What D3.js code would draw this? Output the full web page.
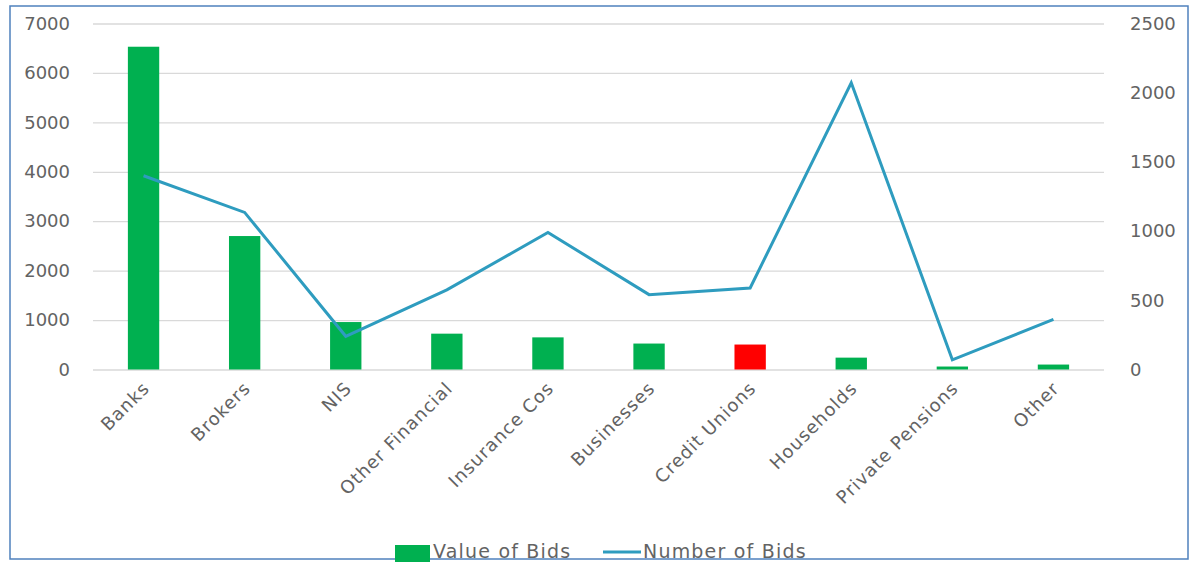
<!DOCTYPE html>
<html><head><meta charset="utf-8">
<script src="https://cdn.jsdelivr.net/npm/d3@7"></script>
<style>body{margin:0;background:#fff;}svg{display:block;font-family:"DejaVu Sans",sans-serif;}</style>
</head><body><svg id="c" width="1190" height="562"></svg>
<script>
const categories = ["Banks","Brokers","NIS","Other Financial","Insurance Cos","Businesses","Credit Unions","Households","Private Pensions","Other"];
const valueOfBids = [6530,2700,960,725,650,525,505,240,60,100];
const numberOfBids = [1400,1135,240,575,990,541,589,2072,70,362];
const barColors = ["#00B050","#00B050","#00B050","#00B050","#00B050","#00B050","#FF0000","#00B050","#00B050","#00B050"];
const leftTicks = [0,1000,2000,3000,4000,5000,6000,7000];
const rightTicks = [0,500,1000,1500,2000,2500];
const legendLabels = ["Value of Bids","Number of Bids"];

const svg = d3.select("#c");
const pLeft = 93, pRight = 1104, pTop = 23.5, pBottom = 369.5;
const txt = "#636363";

const x = d3.scaleBand().domain(categories).range([pLeft,pRight]).paddingInner(0.69).paddingOuter(0.345);
const yL = d3.scaleLinear().domain([0,7000]).range([pBottom,pTop]);
const yR = d3.scaleLinear().domain([0,2500]).range([pBottom,pTop]);

// border
svg.append("rect").attr("x",10).attr("y",6).attr("width",1178).attr("height",553)
  .attr("fill","none").attr("stroke","#4f81bd").attr("stroke-width",1.5);

// gridlines
const grid = svg.append("g").attr("transform",`translate(${pLeft},0)`)
  .call(d3.axisLeft(yL).tickValues(leftTicks).tickSize(-(pRight-pLeft)).tickFormat(""));
grid.select(".domain").remove();
grid.selectAll("line").attr("stroke","#d9d9d9").attr("stroke-width",1.3);

// left axis labels
const ax = svg.append("g").attr("transform",`translate(70,0)`)
  .call(d3.axisLeft(yL).tickValues(leftTicks).tickSize(0).tickPadding(0).tickFormat(d3.format("d")));
ax.select(".domain").remove();
ax.selectAll("text").attr("fill",txt).attr("font-size",18).attr("font-family","DejaVu Sans");

const axr = svg.append("g").attr("transform",`translate(1130,0)`)
  .call(d3.axisRight(yR).tickValues(rightTicks).tickSize(0).tickPadding(0).tickFormat(d3.format("d")));
axr.select(".domain").remove();
axr.selectAll("text").attr("fill",txt).attr("font-size",18).attr("font-family","DejaVu Sans");

// bars
svg.append("g").selectAll("rect").data(categories).join("rect")
  .attr("x",d=>x(d)).attr("width",x.bandwidth())
  .attr("y",(d,i)=>yL(valueOfBids[i])).attr("height",(d,i)=>yL(0)-yL(valueOfBids[i]))
  .attr("fill",(d,i)=>barColors[i]);

// line
const line = d3.line().x((d,i)=>x(categories[i])+x.bandwidth()/2).y(d=>yR(d));
svg.append("path").datum(numberOfBids).attr("d",line).attr("fill","none")
  .attr("stroke","#2e9cbf").attr("stroke-width",3).attr("stroke-linejoin","miter");

// x labels
const xa = svg.append("g").attr("transform",`translate(0,${pBottom})`)
  .call(d3.axisBottom(x).tickSize(0).tickPadding(0));
xa.select(".domain").remove();
xa.selectAll("text").attr("fill",txt).attr("font-size",18).attr("font-family","DejaVu Sans")
  .attr("letter-spacing",1)
  .attr("text-anchor","end").attr("dy",0)
  .attr("transform","translate(7,20) rotate(-45)");

// legend
const lg = svg.append("g");
lg.append("rect").attr("x",395).attr("y",545).attr("width",35).attr("height",17).attr("fill","#00B050");
lg.append("text").attr("x",433).attr("y",558).text(legendLabels[0])
  .attr("fill",txt).attr("font-size",19).attr("letter-spacing",1.2);
lg.append("line").attr("x1",603).attr("x2",641).attr("y1",552).attr("y2",552)
  .attr("stroke","#2e9cbf").attr("stroke-width",3);
lg.append("text").attr("x",643).attr("y",558).text(legendLabels[1])
  .attr("fill",txt).attr("font-size",19).attr("letter-spacing",1.2);
</script></body></html>
